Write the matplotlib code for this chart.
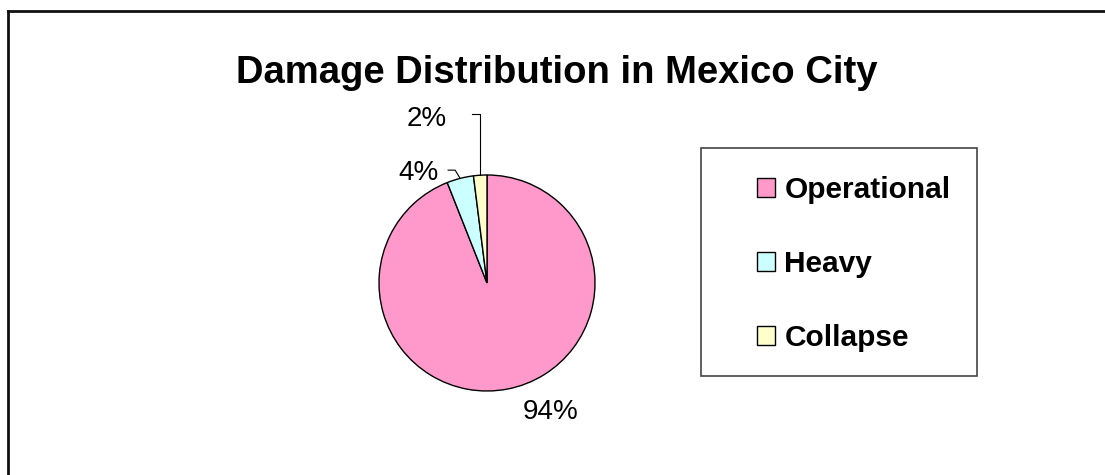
import matplotlib
matplotlib.use("Agg")
import matplotlib.pyplot as plt
from matplotlib.patches import Rectangle, Patch
import numpy as np

plt.rcParams['font.family'] = ['Liberation Sans', 'DejaVu Sans']

categories = ["Operational", "Heavy", "Collapse"]
shares = [94, 4, 2]
colors = ["#FF99CC", "#CCFFFF", "#FFFFCC"]
title = "Damage Distribution in Mexico City"

W, H = 1105, 475
fig = plt.figure(figsize=(W / 100, H / 100), dpi=100)

def px(x, y):
    return x / W, 1 - y / H

# outer chart frame (only top and left edges fall inside the canvas)
fig.add_artist(plt.Line2D([7.5 / W, 1.0], [1 - 11 / H] * 2, color="#111111", lw=2,
                          transform=fig.transFigure))
fig.add_artist(plt.Line2D([7.5 / W] * 2, [0.0, 1 - 11 / H], color="#111111", lw=2,
                          transform=fig.transFigure))

fig.text(*px(557, 83), title, ha="center", va="baseline", fontsize=27.5, fontweight="bold")

# pie
cx, cy, r = 487, 283, 108
ax = fig.add_axes([(cx - r) / W, (H - cy - r) / H, 2 * r / W, 2 * r / H])
wedges, _ = ax.pie(shares, colors=colors, startangle=90, counterclock=False,
                   wedgeprops=dict(edgecolor="black", linewidth=1))
ax.set_xlim(-1, 1)
ax.set_ylim(-1, 1)
ax.set_aspect("equal")
ax.axis("off")

def mid_point(w):
    a = np.deg2rad((w.theta1 + w.theta2) / 2)
    return np.cos(a), np.sin(a)

lab_kw = dict(fontsize=20, ha="center", va="center")

# 94% below the pie
ax.text(0.585, -1.195, f"{shares[0]}%", **lab_kw)

# 4% with leader
mx, my = mid_point(wedges[1])
ax.text(-0.63, 1.02, f"{shares[1]}%", **lab_kw)
ax.plot([-0.36, -0.295, mx], [1.045, 1.045, my], color="black", lw=0.8, clip_on=False)

# 2% with leader
mx, my = mid_point(wedges[2])
ax.text(-0.56, 1.52, f"{shares[2]}%", **lab_kw)
ax.plot([-0.14, mx, mx], [1.565, 1.565, my], color="black", lw=0.8, clip_on=False)

# legend box
fig.add_artist(Rectangle(px(701, 376), 276 / W, 228 / H, transform=fig.transFigure,
                         facecolor="white", edgecolor="#444444", lw=1.2))
handles = [Patch(facecolor=c, edgecolor="black", lw=1) for c in colors]
fig.legend(handles, categories, loc="center left", bbox_to_anchor=px(742, 264),
           frameon=False, prop=dict(size=21.5, weight="bold"), handlelength=0.62,
           handleheight=0.62, handletextpad=0.3, labelspacing=1.55, borderpad=0)

fig.savefig("out.png", dpi=100)
